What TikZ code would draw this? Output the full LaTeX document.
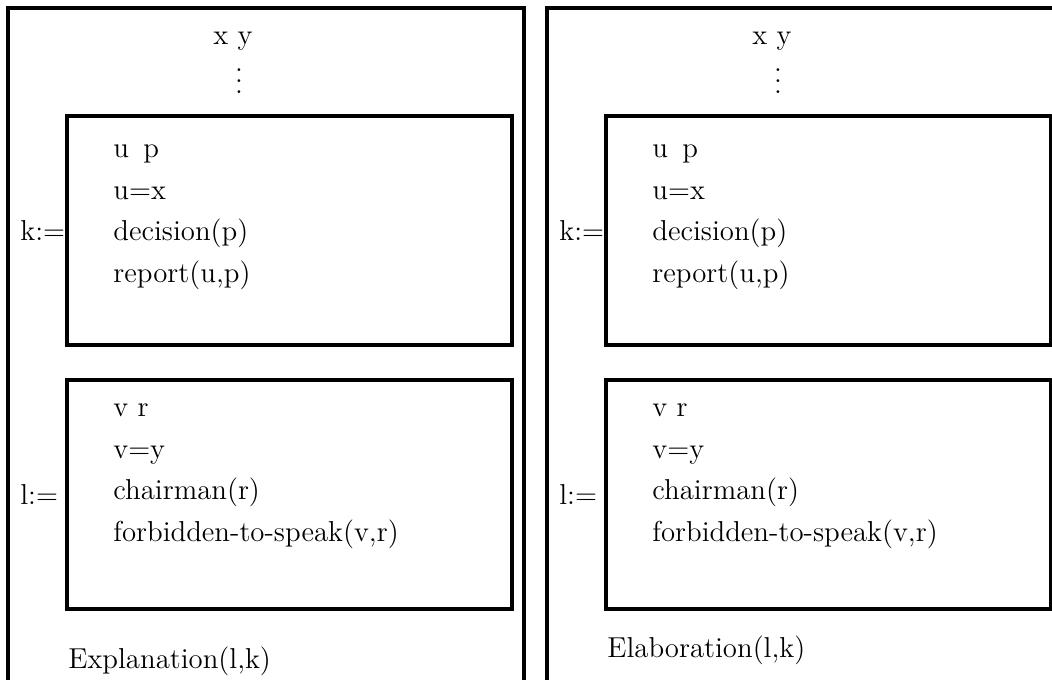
\documentclass[tikz,border=0pt]{standalone}
\usetikzlibrary{positioning}
\begin{document}
\begin{tikzpicture}[x=0.5pt,y=-0.5pt,
  frame/.style={line width=1.6pt},
  drs/.style={draw,line width=1.6pt,minimum width=222.5pt,minimum height=114.5pt,inner sep=0pt},
  cond/.style={anchor=base west,align=left,inner sep=0pt,font=\fontsize{14.4}{20.75}\selectfont},
  txt/.style={inner sep=0pt,font=\fontsize{14.4}{17.28}\selectfont}]
\clip (0,0) rectangle (1052,679);
\draw[frame] (8,700) -- (8,8) -- (524,8) -- (524,700);
\draw[frame] (547,700) -- (547,8) -- (1070,8);
\node[txt,anchor=base west] (xyL) at (213,45) {x y};
\node[txt] (dotsL) at (239,81) {\vbox{\baselineskip5.5pt\lineskiplimit0pt\hbox{.}\hbox{.}\hbox{.}}};
\node[drs] (kL) at (289.5,230.5) {};
\node[cond] (kcondL) at (113,282) {u\enspace p\\u=x\\decision(p)\\report(u,p)};
\node[txt,anchor=west] (kdefL) at (20,230.5) {k:=};
\node[drs] (lL) at (289.5,494.5) {};
\node[cond] (lcondL) at (113,541) {v r\\v=y\\chairman(r)\\forbidden-to-speak(v,r)};
\node[txt,anchor=west] (ldefL) at (20,494.5) {l:=};
\node[txt,anchor=base west] (relL) at (68,668) {Explanation(l,k)};
\node[txt,anchor=base west] (xyR) at (752,45) {x y};
\node[txt] (dotsR) at (778,81) {\vbox{\baselineskip5.5pt\lineskiplimit0pt\hbox{.}\hbox{.}\hbox{.}}};
\node[drs] (kR) at (828.5,230.5) {};
\node[cond] (kcondR) at (652,282) {u\enspace p\\u=x\\decision(p)\\report(u,p)};
\node[txt,anchor=west] (kdefR) at (559,230.5) {k:=};
\node[drs] (lR) at (828.5,494.5) {};
\node[cond] (lcondR) at (652,541) {v r\\v=y\\chairman(r)\\forbidden-to-speak(v,r)};
\node[txt,anchor=west] (ldefR) at (559,494.5) {l:=};
\node[txt,anchor=base west] (relR) at (607,657) {Elaboration(l,k)};
\end{tikzpicture}
\end{document}
